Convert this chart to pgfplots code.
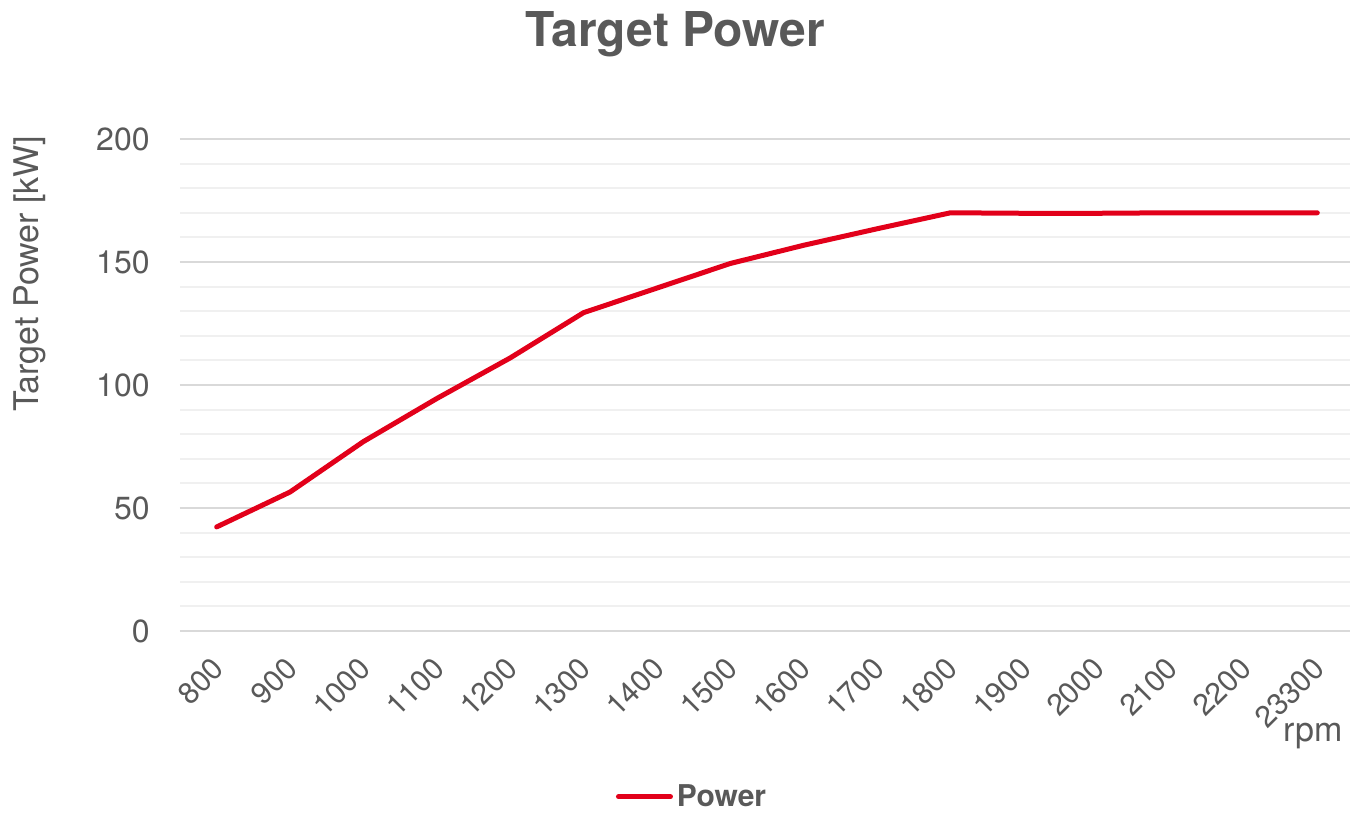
\documentclass[border=0pt]{standalone}
\usepackage{pgfplots}
\pgfplotsset{compat=1.18}
\usepackage{fontspec}
\setmainfont{TeX Gyre Heros}
\definecolor{txt}{HTML}{595959}
\definecolor{pred}{HTML}{E2001A}
\definecolor{majg}{HTML}{D9D9D9}
\definecolor{ming}{HTML}{F0F0F0}
\begin{document}
\begin{tikzpicture}
\useasboundingbox (0,0) rectangle (675pt,406.5pt);
\begin{axis}[
  at={(90pt,91pt)}, anchor=south west,
  scale only axis, width=587pt, height=246pt,
  xmin=-0.5, xmax=15.5, ymin=0, ymax=200,
  axis line style={draw=none},
  major tick length=0pt, minor tick length=0pt,
  ytick={0,50,100,150,200}, minor y tick num=4,
  ymajorgrids, yminorgrids,
  major grid style={majg, line width=1pt},
  minor grid style={ming, line width=1pt},
  xtick={0,...,15},
  xticklabels={800,900,1000,1100,1200,1300,1400,1500,1600,1700,1800,1900,2000,2100,2200,23300},
  ticklabel style={text=txt},
  yticklabel style={font=\fontsize{16}{19}\selectfont},
  /pgf/number format/assume math mode=true,
  yticklabel style={anchor=east, inner sep=0pt, xshift=-15pt},
  xticklabel style={font=\fontsize{15}{18}\selectfont, xshift=1pt, yshift=-16pt, rotate=45, anchor=east, inner sep=0pt},
  title={Target Power},
  title style={at={(axis description cs:0.422,1.189)}, anchor=center, font=\bfseries\fontsize{24}{28}\selectfont, text=txt},
  ylabel={Target Power [kW]},
  ylabel style={at={(axis description cs:-0.128,0.726)}, anchor=center, font=\fontsize{17}{20}\selectfont, text=txt},
  xlabel={rpm},
  xlabel style={at={(axis description cs:0.9906,-0.213)}, anchor=east, inner sep=0pt, font=\fontsize{17}{20}\selectfont, text=txt},
  legend style={at={(axis description cs:0.437,-0.337)}, anchor=center, draw=none, fill=none,
    font=\bfseries\fontsize{15}{18}\selectfont, text=txt, inner sep=0pt},
  legend image code/.code={\draw[pred, line width=2.5pt, line cap=round] (0pt,0pt) -- (26pt,0pt);},
  legend cell align=left,
]
\addplot[pred, line width=2.5pt, line cap=round, line join=round] coordinates {
(0,42.3) (1,56.5) (2,77) (3,94.5) (4,111) (5,129.4) (6,139.4) (7,149.4)
(8,156.8) (9,163.5) (10,170) (11,169.8) (12,169.8) (13,170) (14,170) (15,170)
};
\addlegendentry{Power}
\end{axis}
\end{tikzpicture}
\end{document}
